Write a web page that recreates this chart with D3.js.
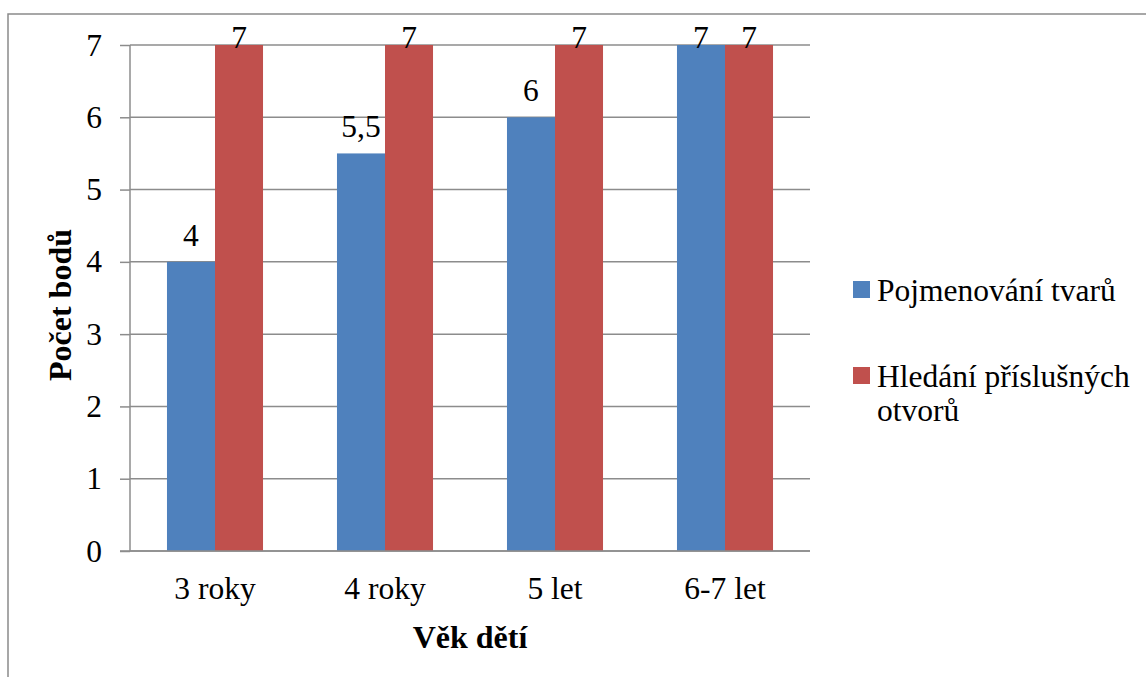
<!DOCTYPE html>
<html>
<head>
<meta charset="utf-8">
<script src="https://cdn.jsdelivr.net/npm/d3@7"></script>
<style>
  html, body { margin: 0; padding: 0; background: #fff; }
  svg { display: block; }
</style>
</head>
<body>
<svg id="chart" width="1146" height="677"></svg>
<script>
// Age groups and scores
const categories = ["3 roky", "4 roky", "5 let", "6-7 let"];
const seriesNames = ["Pojmenování tvarů", "Hledání příslušných otvorů"];
const namingScores = [4, 5.5, 6, 7];
const holeScores = [7, 7, 7, 7];
const yTicks = [0, 1, 2, 3, 4, 5, 6, 7];
const colors = ["#4F81BD", "#C0504D"];

const series = [namingScores, holeScores];
const FONT = "Liberation Serif";
const FS = 31.5;

const svg = d3.select("#chart");
const W = 1146, H = 677;
const plot = { left: 130, right: 810, top: 45, bottom: 551 };

// Outer frame (cut off at the right and bottom edges)
svg.append("rect")
  .attr("x", 8).attr("y", 14)
  .attr("width", W + 10).attr("height", H + 10)
  .attr("fill", "none").attr("stroke", "#8a8a8a").attr("stroke-width", 1.5);

const y = d3.scaleLinear().domain([0, 7]).range([plot.bottom, plot.top]);
const x0 = d3.scaleBand().domain(categories).range([plot.left, plot.right])
  .paddingInner(0.435).paddingOuter(0.2175);
const x1 = d3.scaleBand().domain(d3.range(series.length)).range([0, x0.bandwidth()]);

// Horizontal gridlines
svg.append("g")
  .selectAll("line").data(yTicks).join("line")
  .attr("x1", plot.left).attr("x2", plot.right)
  .attr("y1", d => y(d)).attr("y2", d => y(d))
  .attr("stroke", "#8c8c8c").attr("stroke-width", 1.5);

// Bars
const groups = svg.append("g").selectAll("g").data(categories).join("g")
  .attr("transform", c => `translate(${x0(c)},0)`);

groups.selectAll("rect")
  .data((c, i) => series.map((s, k) => ({ k, v: s[i] })))
  .join("rect")
  .attr("x", d => x1(d.k))
  .attr("width", x1.bandwidth())
  .attr("y", d => y(d.v))
  .attr("height", d => y(0) - y(d.v))
  .attr("fill", d => colors[d.k]);

// Value labels above bars, kept just inside the top of the plot
groups.selectAll("text.val")
  .data((c, i) => series.map((s, k) => ({ k, v: s[i] })))
  .join("text")
  .attr("class", "val")
  .attr("x", d => x1(d.k) + x1.bandwidth() / 2)
  .attr("y", d => Math.max(y(d.v) - 16, plot.top + 3))
  .attr("text-anchor", "middle")
  .attr("font-family", FONT)
  .attr("font-size", FS)
  .attr("fill", "#000")
  .text(d => String(d.v).replace(".", ","));

// Y axis
const yAxis = svg.append("g")
  .attr("transform", `translate(${plot.left},0)`)
  .call(d3.axisLeft(y).tickValues(yTicks).tickSize(10).tickPadding(18).tickFormat(d3.format("d")));
yAxis.attr("font-family", FONT).attr("font-size", FS);
yAxis.select(".domain").attr("stroke", "#8c8c8c").attr("stroke-width", 1.5).attr("d", `M0,${plot.top}V${plot.bottom}`);
yAxis.selectAll(".tick line").attr("stroke", "#8c8c8c").attr("stroke-width", 1.5);
yAxis.selectAll(".tick text")
  .attr("font-family", FONT)
  .attr("font-size", FS)
  .attr("fill", "#000");

// X axis
const xAxis = svg.append("g")
  .attr("transform", `translate(0,${plot.bottom})`)
  .call(d3.axisBottom(x0).tickSize(0).tickPadding(26));
xAxis.attr("font-family", FONT).attr("font-size", FS);
xAxis.select(".domain").attr("stroke", "#8c8c8c").attr("stroke-width", 1.5)
  .attr("d", `M${plot.left - 10},0H${plot.right}`);
xAxis.selectAll(".tick text")
  .attr("font-family", FONT)
  .attr("font-size", FS)
  .attr("fill", "#000");

// Axis titles
svg.append("text")
  .attr("transform", `translate(71,${(228 + 382) / 2}) rotate(-90)`)
  .attr("text-anchor", "middle")
  .attr("font-family", FONT)
  .attr("font-size", 32).attr("font-weight", "bold")
  .text("Počet bodů");

svg.append("text")
  .attr("x", (plot.left + plot.right) / 2).attr("y", 648)
  .attr("text-anchor", "middle")
  .attr("font-family", FONT)
  .attr("font-size", 32).attr("font-weight", "bold")
  .text("Věk dětí");

// Legend
const legendLines = [["Pojmenování tvarů"], ["Hledání příslušných", "otvorů"]];
const legend = svg.append("g").selectAll("g").data(seriesNames).join("g")
  .attr("transform", (d, i) => `translate(853,${i === 0 ? 281 : 367})`);
legend.append("rect")
  .attr("width", 17).attr("height", 17)
  .attr("fill", (d, i) => colors[i]);
legend.append("text")
  .attr("x", 24).attr("y", 20)
  .attr("font-family", FONT)
  .attr("font-size", FS)
  .attr("fill", "#000")
  .selectAll("tspan").data((d, i) => legendLines[i]).join("tspan")
  .attr("x", 24).attr("dy", (d, j) => j === 0 ? 0 : 34)
  .text(d => d);
</script>
</body>
</html>
